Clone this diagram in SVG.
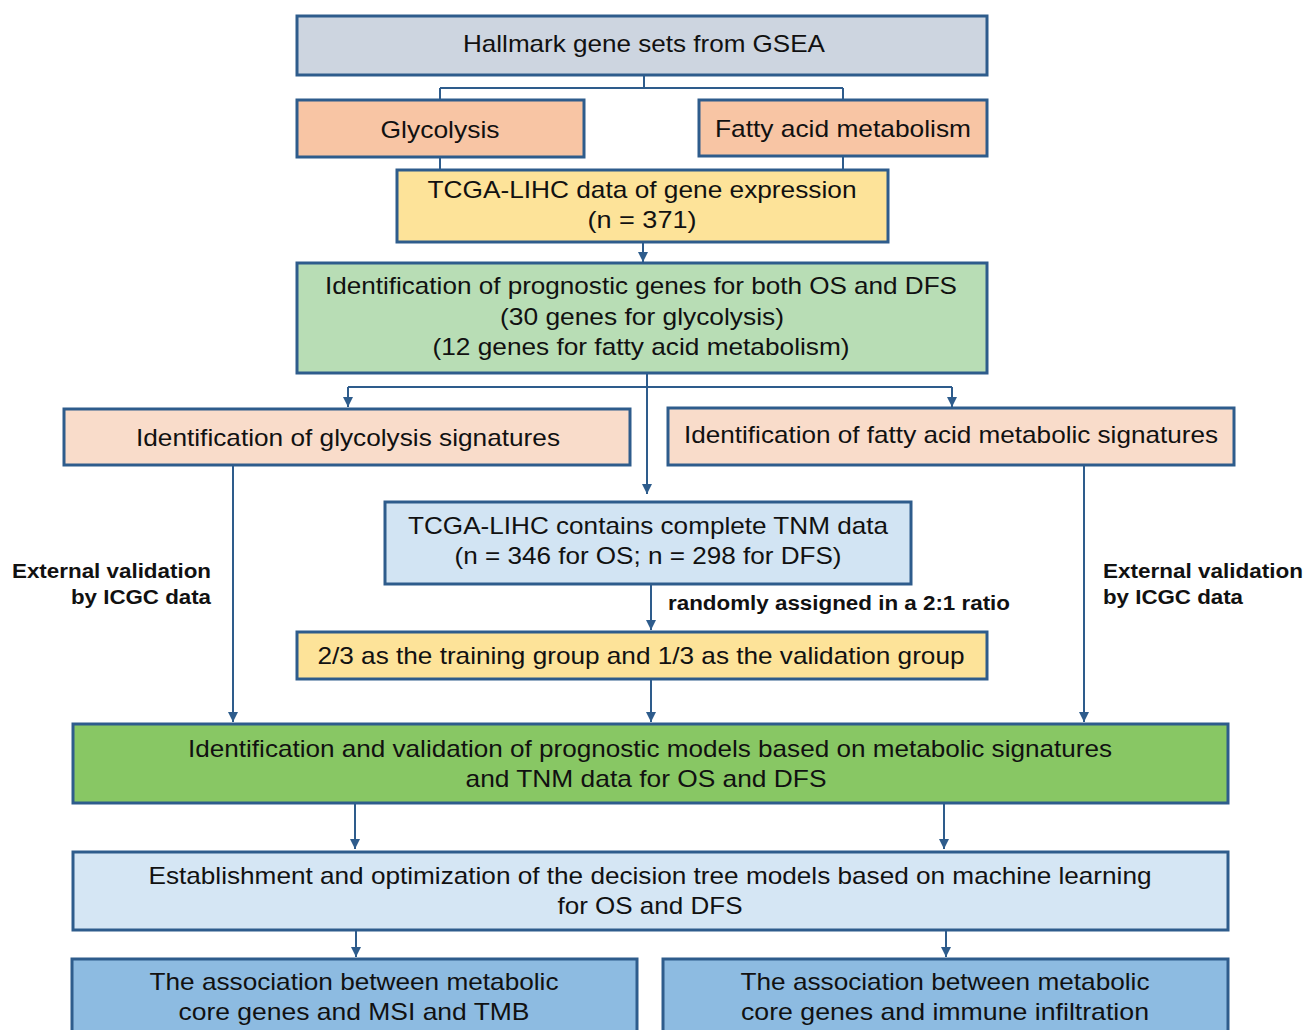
<svg xmlns="http://www.w3.org/2000/svg" width="1305" height="1030" viewBox="0 0 1305 1030">
<style>
.box{stroke:#2e5c8c;stroke-width:3}
.t{font-family:"Liberation Sans",Arial,sans-serif;font-size:24px;fill:#111;text-anchor:middle}
.b{font-family:"Liberation Sans",Arial,sans-serif;font-size:20px;font-weight:bold;fill:#111}
.c{fill:none;stroke:#2e5c8c;stroke-width:2}
.a{fill:none;stroke:#2e5c8c;stroke-width:2;marker-end:url(#ah)}
</style>
<defs>
<marker id="ah" viewBox="0 0 10 10" refX="10" refY="5" markerWidth="10" markerHeight="10" markerUnits="userSpaceOnUse" orient="auto">
<path d="M0,0 L10,5 L0,10 z" fill="#2e5c8c"/>
</marker>
</defs>
<rect width="1305" height="1030" fill="#fff"/>
<g id="connectors">
<path class="c" d="M644,75 V88 M440,88 H843 M440,88 V100 M843,88 V100"/>
<path class="c" d="M440,157 V170 M843,156 V170"/>
<path class="a" d="M643,242 V262"/>
<path class="c" d="M348,387 H952"/>
<path class="a" d="M348,387 V407"/>
<path class="a" d="M952,387 V407"/>
<path class="a" d="M647,373 V494"/>
<path class="a" d="M651,584 V630"/>
<path class="a" d="M651,679 V722"/>
<path class="a" d="M233,465 V722"/>
<path class="a" d="M1084,465 V722"/>
<path class="a" d="M355,803 V849"/>
<path class="a" d="M944,803 V849"/>
<path class="a" d="M356,930 V957"/>
<path class="a" d="M946,930 V957"/>
</g>
<g id="hallmark"><rect class="box" x="297" y="16" width="690" height="59" fill="#cdd5e0"/>
<text class="t" x="644" y="52" textLength="362" lengthAdjust="spacingAndGlyphs">Hallmark gene sets from GSEA</text></g>
<g id="glycolysis"><rect class="box" x="297" y="100" width="287" height="57" fill="#f8c5a4"/>
<text class="t" x="440" y="138" textLength="119" lengthAdjust="spacingAndGlyphs">Glycolysis</text></g>
<g id="fatty"><rect class="box" x="699" y="100" width="288" height="56" fill="#f8c5a4"/>
<text class="t" x="843" y="137" textLength="256" lengthAdjust="spacingAndGlyphs">Fatty acid metabolism</text></g>
<g id="tcga"><rect class="box" x="397" y="170" width="491" height="72" fill="#fde399"/>
<text class="t" x="642" y="198" textLength="429" lengthAdjust="spacingAndGlyphs">TCGA-LIHC data of gene expression</text>
<text class="t" x="642" y="228" textLength="109" lengthAdjust="spacingAndGlyphs">(n = 371)</text></g>
<g id="prognostic"><rect class="box" x="297" y="263" width="690" height="110" fill="#b8ddb5"/>
<text class="t" x="641" y="294" textLength="632" lengthAdjust="spacingAndGlyphs">Identification of prognostic genes for both OS and DFS</text>
<text class="t" x="642" y="325" textLength="284" lengthAdjust="spacingAndGlyphs">(30 genes for glycolysis)</text>
<text class="t" x="641" y="355" textLength="417" lengthAdjust="spacingAndGlyphs">(12 genes for fatty acid metabolism)</text></g>
<g id="glysig"><rect class="box" x="64" y="409" width="566" height="56" fill="#f9dcca"/>
<text class="t" x="348" y="446" textLength="424" lengthAdjust="spacingAndGlyphs">Identification of glycolysis signatures</text></g>
<g id="fattysig"><rect class="box" x="668" y="408" width="566" height="57" fill="#f9dcca"/>
<text class="t" x="951" y="443" textLength="534" lengthAdjust="spacingAndGlyphs">Identification of fatty acid metabolic signatures</text></g>
<g id="tnm"><rect class="box" x="385" y="502" width="526" height="82" fill="#d2e4f3"/>
<text class="t" x="648" y="534" textLength="480" lengthAdjust="spacingAndGlyphs">TCGA-LIHC contains complete TNM data</text>
<text class="t" x="648" y="564" textLength="387" lengthAdjust="spacingAndGlyphs">(n = 346 for OS; n = 298 for DFS)</text></g>
<g id="labels">
<text class="b" x="668" y="610" textLength="342" lengthAdjust="spacingAndGlyphs">randomly assigned in a 2:1 ratio</text>
<text class="b" x="211" y="578" text-anchor="end" textLength="199" lengthAdjust="spacingAndGlyphs">External validation</text>
<text class="b" x="211" y="604" text-anchor="end" textLength="140" lengthAdjust="spacingAndGlyphs">by ICGC data</text>
<text class="b" x="1103" y="578" textLength="200" lengthAdjust="spacingAndGlyphs">External validation</text>
<text class="b" x="1103" y="604" textLength="140" lengthAdjust="spacingAndGlyphs">by ICGC data</text>
</g>
<g id="training"><rect class="box" x="297" y="632" width="690" height="47" fill="#fde399"/>
<text class="t" x="641" y="664" textLength="647" lengthAdjust="spacingAndGlyphs">2/3 as the training group and 1/3 as the validation group</text></g>
<g id="models"><rect class="box" x="73" y="724" width="1155" height="79" fill="#88c764"/>
<text class="t" x="650" y="757" textLength="924" lengthAdjust="spacingAndGlyphs">Identification and validation of prognostic models based on metabolic signatures</text>
<text class="t" x="646" y="787" textLength="361" lengthAdjust="spacingAndGlyphs">and TNM data for OS and DFS</text></g>
<g id="tree"><rect class="box" x="73" y="852" width="1155" height="78" fill="#d5e6f4"/>
<text class="t" x="650" y="884" textLength="1003" lengthAdjust="spacingAndGlyphs">Establishment and optimization of the decision tree models based on machine learning</text>
<text class="t" x="650" y="914" textLength="185" lengthAdjust="spacingAndGlyphs">for OS and DFS</text></g>
<g id="msi"><rect class="box" x="72" y="959" width="565" height="80" fill="#8dbbe1"/>
<text class="t" x="354" y="990" textLength="409" lengthAdjust="spacingAndGlyphs">The association between metabolic</text>
<text class="t" x="354" y="1020" textLength="351" lengthAdjust="spacingAndGlyphs">core genes and MSI and TMB</text></g>
<g id="immune"><rect class="box" x="663" y="959" width="565" height="80" fill="#8dbbe1"/>
<text class="t" x="945" y="990" textLength="409" lengthAdjust="spacingAndGlyphs">The association between metabolic</text>
<text class="t" x="945" y="1020" textLength="408" lengthAdjust="spacingAndGlyphs">core genes and immune infiltration</text></g>
</svg>
